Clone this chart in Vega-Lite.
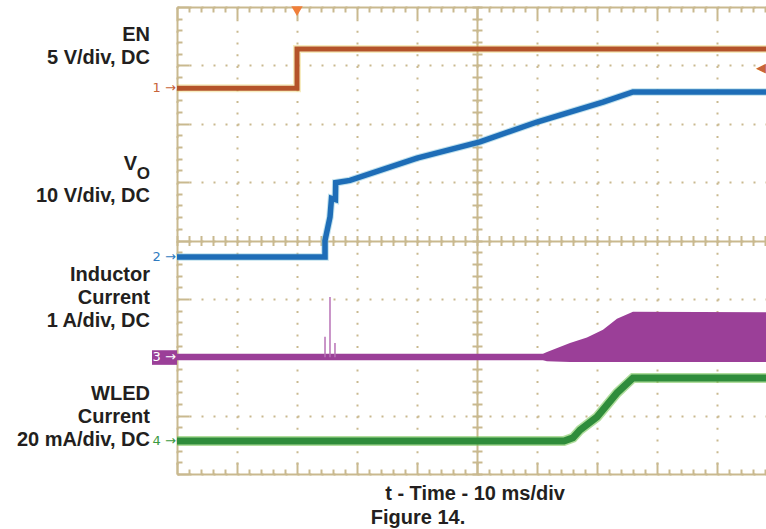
{
  "$schema": "https://vega.github.io/schema/vega-lite/v6.json",
  "width": 589,
  "height": 467,
  "autosize": "none",
  "padding": {"left": 177, "top": 7, "right": 0, "bottom": 55},
  "background": "white",
  "datasets": {
    "en": [
      {"t": 0, "v": 6.61}, {"t": 2, "v": 6.61}, {"t": 2, "v": 7.28}, {"t": 9.817, "v": 7.28}
    ],
    "vo": [
      {"t": 0, "v": 3.717}, {"t": 2.467, "v": 3.717}, {"t": 2.467, "v": 4.0}, {"t": 2.55, "v": 4.4},
      {"t": 2.575, "v": 4.72}, {"t": 2.64, "v": 4.7}, {"t": 2.645, "v": 4.99}, {"t": 2.883, "v": 5.03},
      {"t": 4.0, "v": 5.41}, {"t": 5.05, "v": 5.69}, {"t": 6.0, "v": 6.03}, {"t": 7.1, "v": 6.37},
      {"t": 7.6, "v": 6.544}, {"t": 9.817, "v": 6.544}
    ],
    "inductor": [
      {"t": 0, "v": 1.95, "hi": 2.06}, {"t": 6.1, "v": 1.95, "hi": 2.06}, {"t": 6.167, "v": 1.93, "hi": 2.09},
      {"t": 6.55, "v": 1.92, "hi": 2.244}, {"t": 6.833, "v": 1.92, "hi": 2.34}, {"t": 7.1, "v": 1.92, "hi": 2.47},
      {"t": 7.333, "v": 1.92, "hi": 2.66}, {"t": 7.6, "v": 1.92, "hi": 2.78}, {"t": 9.817, "v": 1.92, "hi": 2.77}
    ],
    "spikes": [
      {"t": 2.467, "v": 2.0, "hi": 2.35}, {"t": 2.55, "v": 2.0, "hi": 3.03}, {"t": 2.633, "v": 2.0, "hi": 2.244}
    ],
    "wled": [
      {"t": 0, "v": 0.565}, {"t": 6.45, "v": 0.565}, {"t": 6.6, "v": 0.62}, {"t": 6.717, "v": 0.754},
      {"t": 7.0, "v": 0.976}, {"t": 7.333, "v": 1.388}, {"t": 7.6, "v": 1.645}, {"t": 9.817, "v": 1.645}
    ],
    "markers": [
      {"label": "1 →", "t": -0.02, "v": 6.61, "ch": "1"},
      {"label": "2 →", "t": -0.02, "v": 3.717, "ch": "2"},
      {"label": "3 →", "t": -0.02, "v": 2.0, "ch": "3"},
      {"label": "4 →", "t": -0.02, "v": 0.565, "ch": "4"},
      {"label": "◀", "t": 9.817, "v": 6.955, "ch": "1"}
    ],
    "box": [{"t": -0.417, "t2": 0, "v": 1.87, "hi": 2.12}],
    "trigger": [{"t": 2, "v": 7.93}],
    "labels": [
      {"label": "EN", "t": -0.45, "v": 7.52},
      {"label": "5 V/div, DC", "t": -0.45, "v": 7.126},
      {"label": "V", "t": -0.667, "v": 5.31},
      {"label": "10 V/div, DC", "t": -0.45, "v": 4.762},
      {"label": "Inductor", "t": -0.45, "v": 3.409},
      {"label": "Current", "t": -0.45, "v": 3.015},
      {"label": "1 A/div, DC", "t": -0.45, "v": 2.621},
      {"label": "WLED", "t": -0.45, "v": 1.37},
      {"label": "Current", "t": -0.45, "v": 0.976},
      {"label": "20 mA/div, DC", "t": -0.45, "v": 0.582}
    ],
    "sub": [{"label": "O", "t": -0.45, "v": 5.139}],
    "captions": [
      {"label": "t - Time - 10 ms/div", "t": 4.967, "v": -0.343},
      {"label": "Figure 14.", "t": 4.017, "v": -0.754}
    ]
  },
  "encoding": {
    "x": {"field": "t", "type": "quantitative", "scale": {"domain": [0, 9.817], "nice": false, "zero": false}, "axis": null},
    "y": {"field": "v", "type": "quantitative", "scale": {"domain": [0, 8], "nice": false, "zero": false}, "axis": null}
  },
  "layer": [
    {
      "data": {"name": "inductor"},
      "mark": {"type": "area", "color": "#9b3f98"},
      "encoding": {
        "x": {
          "field": "t", "type": "quantitative", "scale": {"domain": [0, 9.817], "nice": false, "zero": false},
          "axis": {
            "orient": "bottom", "title": null, "labels": false,
            "values": [0,0.2,0.4,0.6,0.8,1,1.2,1.4,1.6,1.8,2,2.2,2.4,2.6,2.8,3,3.2,3.4,3.6,3.8,4,4.2,4.4,4.6,4.8,5,5.2,5.4,5.6,5.8,6,6.2,6.4,6.6,6.8,7,7.2,7.4,7.6,7.8,8,8.2,8.4,8.6,8.8,9,9.2,9.4,9.6,9.8],
            "domainColor": "#c9b98f", "domainWidth": 2,
            "tickColor": "#c9b98f", "tickWidth": 2,
            "tickSize": {"condition": {"test": "abs(datum.value - round(datum.value)) < 0.01", "value": -12}, "value": -5},
            "grid": true, "gridColor": "#c9b98f", "gridWidth": 2, "gridDash": [2, 9.675],
            "gridOpacity": {"condition": {"test": "abs(datum.value - round(datum.value)) < 0.01", "value": 1}, "value": 0}
          }
        },
        "y": {
          "field": "v", "type": "quantitative", "scale": {"domain": [0, 8], "nice": false, "zero": false},
          "axis": {
            "orient": "left", "title": null, "labels": false,
            "values": [0,0.2,0.4,0.6,0.8,1,1.2,1.4,1.6,1.8,2,2.2,2.4,2.6,2.8,3,3.2,3.4,3.6,3.8,4,4.2,4.4,4.6,4.8,5,5.2,5.4,5.6,5.8,6,6.2,6.4,6.6,6.8,7,7.2,7.4,7.6,7.8,8],
            "domainColor": "#c9b98f", "domainWidth": 2,
            "tickColor": "#c9b98f", "tickWidth": 2,
            "tickSize": {"condition": {"test": "abs(datum.value - round(datum.value)) < 0.01", "value": -12}, "value": -5},
            "grid": true, "gridColor": "#c9b98f", "gridWidth": 2, "gridDash": [2, 10],
            "gridOpacity": {"condition": {"test": "abs(datum.value - round(datum.value)) < 0.01", "value": 1}, "value": 0}
          }
        },
        "y2": {"field": "hi"}
      }
    },
    {
      "data": {"name": "spikes"},
      "mark": {"type": "rule", "color": "#b872b6", "strokeWidth": 1.5},
      "encoding": {"y2": {"field": "hi"}}
    },
    {
      "data": {"name": "wled"},
      "mark": {"type": "line", "color": "#7cc75a", "strokeWidth": 10, "opacity": 0.6, "strokeJoin": "miter"},
      "encoding": {"order": {"value": null}}
    },
    {
      "data": {"name": "wled"},
      "mark": {"type": "line", "color": "#2f8c3b", "strokeWidth": 7, "strokeJoin": "miter"},
      "encoding": {"order": {"value": null}}
    },
    {
      "data": {"name": "vo"},
      "mark": {"type": "line", "color": "#7fc4dc", "strokeWidth": 7.5, "opacity": 0.5, "strokeJoin": "miter"},
      "encoding": {"order": {"value": null}}
    },
    {
      "data": {"name": "vo"},
      "mark": {"type": "line", "color": "#1e6db7", "strokeWidth": 5.5, "strokeJoin": "miter"},
      "encoding": {
        "x": {
          "field": "t", "type": "quantitative", "scale": {"domain": [0, 9.817], "nice": false, "zero": false},
          "axis": {
            "orient": "bottom", "offset": -238.5, "title": null, "labels": false, "domain": false,
            "values": [0,0.2,0.4,0.6,0.8,1,1.2,1.4,1.6,1.8,2,2.2,2.4,2.6,2.8,3,3.2,3.4,3.6,3.8,4,4.2,4.4,4.6,4.8,5,5.2,5.4,5.6,5.8,6,6.2,6.4,6.6,6.8,7,7.2,7.4,7.6,7.8,8,8.2,8.4,8.6,8.8,9,9.2,9.4,9.6,9.8],
            "tickColor": "#c9b98f", "tickWidth": 2, "tickSize": 10,
            "grid": true, "gridColor": "#c9b98f", "gridWidth": 2,
            "gridOpacity": {"condition": {"test": "abs(datum.value - 5) < 0.01", "value": 1}, "value": 0}
          }
        },
        "order": {"value": null}
      }
    },
    {
      "data": {"name": "en"},
      "mark": {"type": "line", "color": "#e6c84a", "strokeWidth": 8, "opacity": 0.35, "strokeJoin": "miter"},
      "encoding": {"order": {"value": null}}
    },
    {
      "data": {"name": "en"},
      "mark": {"type": "line", "color": "#b4532a", "strokeWidth": 5, "strokeJoin": "miter"},
      "encoding": {
        "x": {
          "field": "t", "type": "quantitative", "scale": {"domain": [0, 9.817], "nice": false, "zero": false},
          "axis": {
            "orient": "top", "title": null, "labels": false,
            "values": [0,0.2,0.4,0.6,0.8,1,1.2,1.4,1.6,1.8,2,2.2,2.4,2.6,2.8,3,3.2,3.4,3.6,3.8,4,4.2,4.4,4.6,4.8,5,5.2,5.4,5.6,5.8,6,6.2,6.4,6.6,6.8,7,7.2,7.4,7.6,7.8,8,8.2,8.4,8.6,8.8,9,9.2,9.4,9.6,9.8],
            "domainColor": "#c9b98f", "domainWidth": 2,
            "tickColor": "#c9b98f", "tickWidth": 2,
            "tickSize": {"condition": {"test": "abs(datum.value - round(datum.value)) < 0.01", "value": -12}, "value": -5},
            "grid": false
          }
        },
        "y": {
          "field": "v", "type": "quantitative", "scale": {"domain": [0, 8], "nice": false, "zero": false},
          "axis": {
            "orient": "left", "offset": -305, "title": null, "labels": false, "domain": false,
            "values": [0,0.2,0.4,0.6,0.8,1,1.2,1.4,1.6,1.8,2,2.2,2.4,2.6,2.8,3,3.2,3.4,3.6,3.8,4,4.2,4.4,4.6,4.8,5,5.2,5.4,5.6,5.8,6,6.2,6.4,6.6,6.8,7,7.2,7.4,7.6,7.8,8],
            "tickColor": "#c9b98f", "tickWidth": 2, "tickSize": 10,
            "grid": true, "gridColor": "#c9b98f", "gridWidth": 2,
            "gridOpacity": {"condition": {"test": "abs(datum.value - 4) < 0.01", "value": 1}, "value": 0}
          }
        },
        "order": {"value": null}
      }
    },
    {
      "data": {"name": "box"},
      "mark": {"type": "rect", "color": "#9b3f98"},
      "encoding": {"x2": {"field": "t2"}, "y2": {"field": "hi"}}
    },
    {
      "data": {"name": "markers"},
      "mark": {"type": "text", "align": "right", "baseline": "middle", "fontSize": 13, "font": "DejaVu Sans"},
      "encoding": {
        "text": {"field": "label"},
        "color": {
          "field": "ch", "type": "nominal", "legend": null,
          "scale": {"domain": ["1", "2", "3", "4"], "range": ["#c8643a", "#2f7bc0", "#ffffff", "#3a9a40"]}
        }
      }
    },
    {
      "data": {"name": "trigger"},
      "mark": {"type": "point", "shape": "triangle-down", "filled": true, "size": 130, "color": "#f07f3a", "opacity": 1}
    },
    {
      "data": {"name": "labels"},
      "mark": {"type": "text", "align": "right", "baseline": "middle", "fontSize": 20, "fontWeight": "bold", "font": "Liberation Sans", "color": "#231f20"},
      "encoding": {"text": {"field": "label"}}
    },
    {
      "data": {"name": "sub"},
      "mark": {"type": "text", "align": "right", "baseline": "middle", "fontSize": 17, "fontWeight": "bold", "font": "Liberation Sans", "color": "#231f20"},
      "encoding": {"text": {"field": "label"}}
    },
    {
      "data": {"name": "captions"},
      "mark": {"type": "text", "align": "center", "baseline": "middle", "fontSize": 20, "fontWeight": "bold", "font": "Liberation Sans", "color": "#231f20"},
      "encoding": {"text": {"field": "label"}}
    }
  ],
  "resolve": {"axis": {"x": "independent", "y": "independent"}},
  "config": {"view": {"stroke": null}}
}
